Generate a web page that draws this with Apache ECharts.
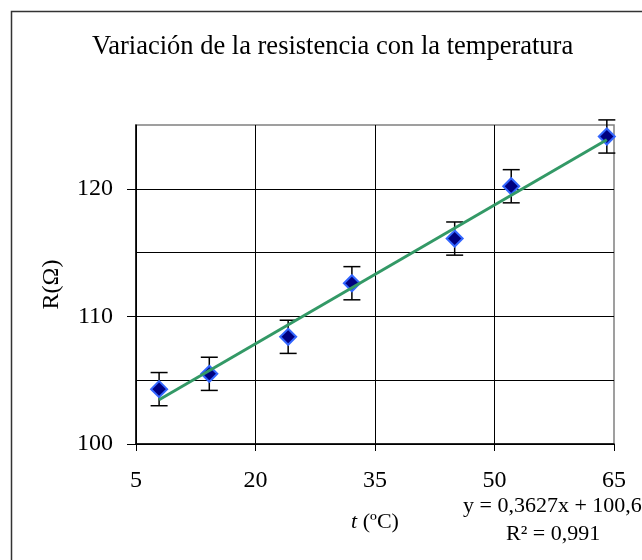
<!DOCTYPE html>
<html>
<head>
<meta charset="utf-8">
<script src="https://cdn.jsdelivr.net/npm/echarts@6/dist/echarts.min.js"></script>
<style>
  html, body { margin: 0; padding: 0; background: #fff; }
  #chart { width: 642px; height: 560px; }
</style>
</head>
<body>
<div id="chart"></div>
<script>
// datos medidos
var temps = [7.9, 14.2, 24.1, 32.1, 45.0, 52.1, 64.1];
var resist = [104.3, 105.5, 108.4, 112.6, 116.1, 120.2, 124.1];
var errs = [1.3, 1.3, 1.3, 1.3, 1.3, 1.3, 1.3];
var yLabels = [100, 110, 120];
// recta de ajuste (del rótulo)
var slope = 0.3627, intercept = 100.6;

var font = 'Liberation Serif';
var points = temps.map(function (t, i) { return [t, resist[i]]; });
var bars = temps.map(function (t, i) { return [t, resist[i], errs[i]]; });
var xFirst = temps[0], xLast = temps[temps.length - 1];
var fitLine = [[xFirst, slope * xFirst + intercept], [xLast, slope * xLast + intercept]];

var chart = echarts.init(document.getElementById('chart'));

var option = {
  animation: false,
  backgroundColor: '#fff',
  title: {
    text: 'Variación de la resistencia con la temperatura',
    left: 87,
    top: 29,
    textStyle: { fontFamily: font, fontSize: 26.5, fontWeight: 'normal', color: '#000' }
  },
  grid: {
    left: 136, top: 125, right: 28, bottom: 116,
    show: true, borderColor: '#808080', borderWidth: 1.5
  },
  xAxis: {
    type: 'value', min: 5, max: 65, interval: 15,
    name: '{i|t} (ºC)', nameLocation: 'middle', nameGap: 67,
    nameTextStyle: {
      fontFamily: font, fontSize: 22, color: '#000',
      rich: { i: { fontFamily: font, fontSize: 22, fontStyle: 'italic', color: '#000' } }
    },
    axisLine: { lineStyle: { color: '#000', width: 1.5 } },
    axisTick: { show: true, length: 7, lineStyle: { color: '#000' } },
    axisLabel: { margin: 25, color: '#000', fontFamily: font, fontSize: 24 },
    splitLine: { showMaxLine: false, lineStyle: { color: '#000', width: 1 } }
  },
  yAxis: [{
    type: 'value', min: 100, max: 125, interval: 5,
    name: 'R(Ω)', nameLocation: 'middle', nameGap: 72,
    nameTextStyle: { fontFamily: font, fontSize: 24, color: '#000' },
    axisLine: { show: true, lineStyle: { color: '#000', width: 1.5 } },
    axisTick: { show: false },
    axisLabel: { show: false },
    splitLine: { showMaxLine: false, lineStyle: { color: '#000', width: 1 } }
  }, {
    type: 'value', position: 'left', min: 100, max: 125, interval: 5,
    axisLine: { show: false },
    axisTick: { show: true, length: 9, customValues: yLabels, lineStyle: { color: '#000' } },
    axisLabel: { customValues: yLabels, margin: 23, color: '#000', fontFamily: font, fontSize: 24 },
    splitLine: { show: false }
  }],
  graphic: [{
    type: 'rect', left: 9, top: 9, z: -1,
    shape: { width: 660, height: 580 },
    style: { fill: null, stroke: '#333', lineWidth: 1.5 }
  }, {
    type: 'text', left: 463, top: 495,
    style: { text: 'y = 0,3627x + 100,6', fontFamily: font, fontSize: 22, fill: '#000' }
  }, {
    type: 'text', left: 506, top: 523,
    style: { text: 'R² = 0,991', fontFamily: font, fontSize: 22, fill: '#000' }
  }],
  series: [{
    // barras de error
    type: 'custom',
    data: bars,
    z: 2,
    renderItem: function (params, api) {
      var x = api.value(0), y = api.value(1), e = api.value(2);
      var top = api.coord([x, y + e]);
      var bot = api.coord([x, y - e]);
      var w = 8.5;
      var st = { stroke: '#000', lineWidth: 1.5 };
      return {
        type: 'group',
        children: [
          { type: 'line', shape: { x1: top[0], y1: top[1], x2: bot[0], y2: bot[1] }, style: st },
          { type: 'line', shape: { x1: top[0] - w, y1: top[1], x2: top[0] + w, y2: top[1] }, style: st },
          { type: 'line', shape: { x1: bot[0] - w, y1: bot[1], x2: bot[0] + w, y2: bot[1] }, style: st }
        ]
      };
    }
  }, {
    type: 'scatter',
    data: points,
    symbol: 'diamond',
    symbolSize: 16,
    z: 3,
    itemStyle: { color: '#000080', borderColor: '#3366ff', borderWidth: 2, opacity: 1 }
  }, {
    type: 'line',
    data: fitLine,
    symbol: 'none',
    z: 4,
    lineStyle: { color: '#339966', width: 3 }
  }]
};

chart.setOption(option);
</script>
</body>
</html>
